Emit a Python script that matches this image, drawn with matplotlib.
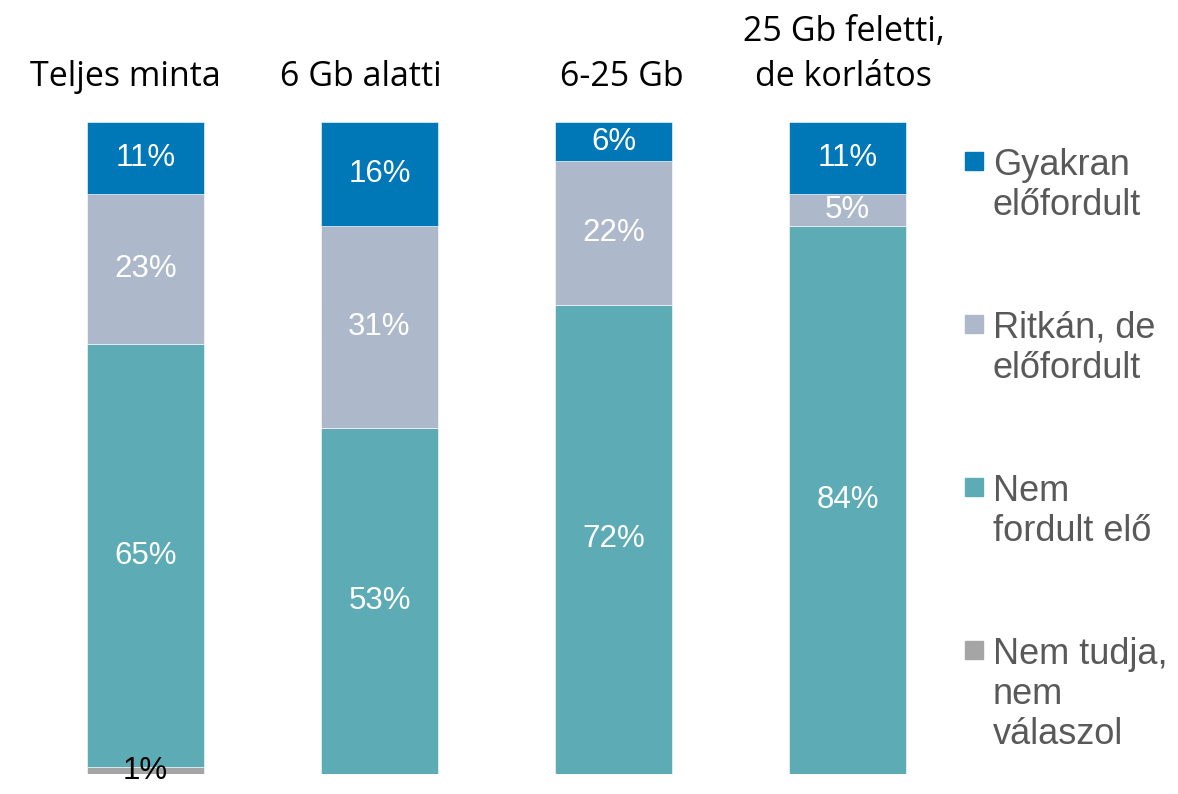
import matplotlib.pyplot as plt
import matplotlib.transforms as mtransforms
import numpy as np

groups = ["Teljes minta", "6 Gb alatti", "6-25 Gb", "25 Gb feletti,\nde korlátos"]
series = ["Nem tudja,\nnem\nválaszol", "Nem\nfordult elő", "Ritkán, de\nelőfordult", "Gyakran\nelőfordult"]
nem_tudja = [1, 0, 0, 0]
nem_fordult = [65, 53, 72, 84]
ritkan = [23, 31, 22, 5]
gyakran = [11, 16, 6, 11]
colors = ["#A5A5A5", "#5DABB5", "#ADB9CA", "#0077B6"]
label_colors = ["black", "white", "white", "white"]

values = [nem_tudja, nem_fordult, ritkan, gyakran]
H = 794.0
W = 1178.0

fig = plt.figure(figsize=(11.78, 7.94), dpi=100)
ax = fig.add_axes([5.1 / W, 20 / H, 936 / W, 652 / H])
x = np.arange(len(groups))

bottom = np.zeros(len(groups))
for vals, col, lcol in zip(values, colors, label_colors):
    vals = np.array(vals, dtype=float)
    ax.bar(x, vals, width=0.5, bottom=bottom, color=col, edgecolor="white", linewidth=0.4)
    for xi, v, b in zip(x, vals, bottom):
        if v > 0:
            ax.text(xi, b + v / 2, f"{int(v)}%", ha="center", va="center",
                    color=lcol, fontsize=22.5, family="Liberation Sans")
    bottom += vals

# group titles above the bars, one text per line, last line on a common baseline
# (title boxes sit a little off the bar centres, shift given in pixels)
title_shift = [-20, -19, 8, -4]
trans = mtransforms.blended_transform_factory(ax.transData, fig.transFigure)
for xi, g, dx in zip(x, groups, title_shift):
    lines = g.split("\n")
    off = mtransforms.offset_copy(trans, fig=fig, x=dx, y=0, units="dots")
    for k, line in enumerate(reversed(lines)):
        ax.text(xi, 1 - (86 - 45 * k) / H, line, ha="center", va="baseline",
                fontsize=24.5, family="Open Sans", transform=off, clip_on=False)

ax.set_xlim(-0.6, 3.4)
ax.set_ylim(0, 100)
ax.axis("off")

# legend, top entry first
for i, (name, col) in enumerate(zip(series[::-1], colors[::-1])):
    base = 175 + i * 163
    fig.patches.append(plt.Rectangle((965 / W, 1 - (base - 5) / H), 18 / W, 18 / H,
                                     transform=fig.transFigure, color=col))
    for k, line in enumerate(name.split("\n")):
        fig.text(993 / W, 1 - (base + 40 * k) / H, line, ha="left", va="baseline",
                 fontsize=26, color="#595959", family="Liberation Sans")

fig.savefig("out.png", dpi=100)
